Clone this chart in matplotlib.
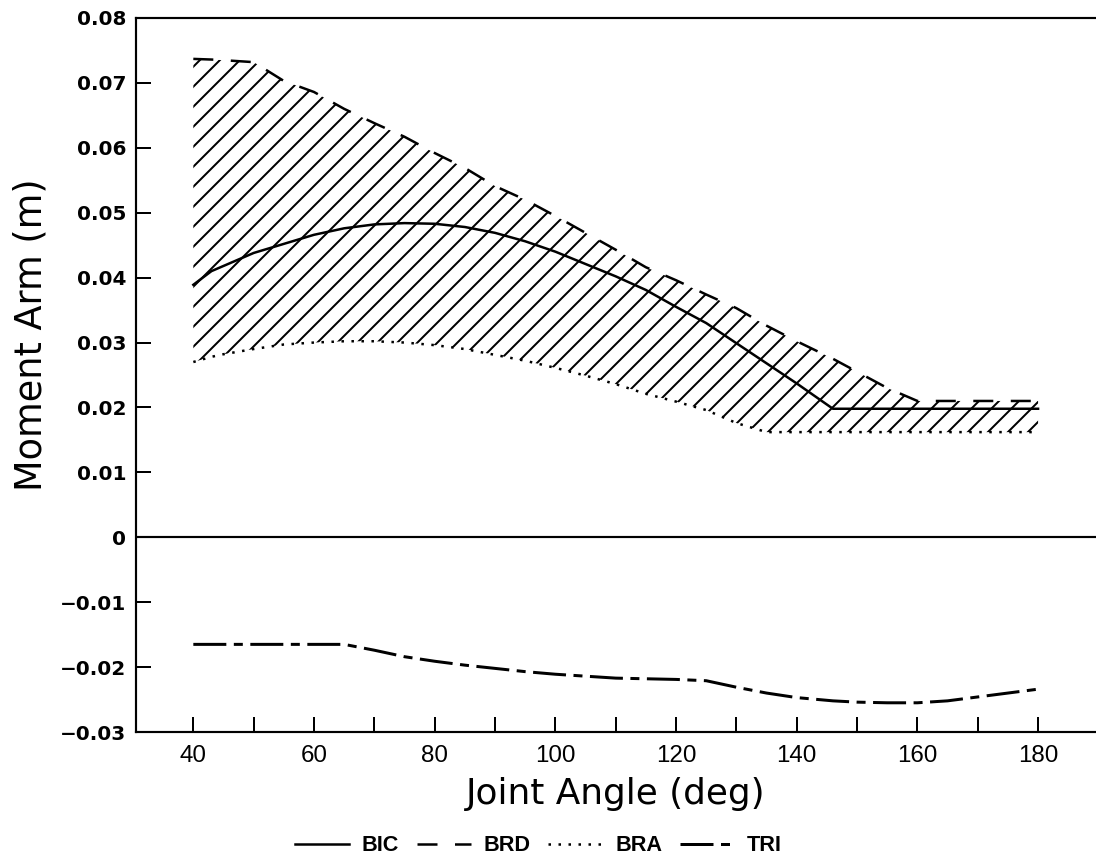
import matplotlib
matplotlib.use("Agg")
import matplotlib.pyplot as plt

# joint angle grid (deg) and moment arms (m)
angle = [40, 43, 45, 50, 55, 60, 65, 70, 75, 80, 85, 90, 95, 100, 105, 110,
         115, 120, 125, 130, 135, 140, 146, 150, 155, 160, 165, 170, 175, 180]

bic = [0.0389, 0.0410, 0.0418, 0.0438, 0.0452, 0.0466, 0.0476, 0.0482, 0.0484,
       0.0483, 0.0478, 0.0469, 0.0456, 0.0440, 0.0421, 0.0402, 0.0381, 0.0355,
       0.0330, 0.0299, 0.0268, 0.0237, 0.0198, 0.0198, 0.0198, 0.0198, 0.0198,
       0.0198, 0.0198, 0.0198]

brd = [0.0737, 0.0736, 0.0735, 0.0732, 0.0703, 0.0686, 0.0660, 0.0638, 0.0617,
       0.0592, 0.0569, 0.0541, 0.0520, 0.0495, 0.0469, 0.0443, 0.0416, 0.0396,
       0.0374, 0.0353, 0.0326, 0.0302, 0.0275, 0.0255, 0.0230, 0.0210, 0.0210,
       0.0210, 0.0210, 0.0210]

bra = [0.0270, 0.0278, 0.0282, 0.0290, 0.0297, 0.0300, 0.0302, 0.0302, 0.0300,
       0.0296, 0.0290, 0.0281, 0.0272, 0.0261, 0.0249, 0.0236, 0.0221, 0.0209,
       0.0196, 0.0176, 0.0162, 0.0162, 0.0162, 0.0162, 0.0162, 0.0162, 0.0162,
       0.0162, 0.0162, 0.0162]

tri = [-0.0165, -0.0165, -0.0165, -0.0165, -0.0165, -0.0165, -0.0165, -0.0174,
       -0.0184, -0.0191, -0.0197, -0.0202, -0.0207, -0.0211, -0.0214, -0.0217,
       -0.0218, -0.0219, -0.0221, -0.0231, -0.0240, -0.0247, -0.0252, -0.0254,
       -0.0255, -0.0255, -0.0252, -0.0246, -0.0240, -0.0234]

y_ticks = [-0.03, -0.02, -0.01, 0, 0.01, 0.02, 0.03, 0.04, 0.05, 0.06, 0.07, 0.08]
y_labels = ["\u22120.03", "\u22120.02", "\u22120.01", "0", "0.01", "0.02", "0.03",
            "0.04", "0.05", "0.06", "0.07", "0.08"]
x_major = [40, 60, 80, 100, 120, 140, 160, 180]
x_minor = [50, 70, 90, 110, 130, 150, 170]

NARROW = ["Liberation Sans", "DejaVu Sans"]

plt.rcParams["hatch.linewidth"] = 1.2
fig = plt.figure(figsize=(1096 / 120, 856 / 120), dpi=120)
ax = fig.add_axes([136 / 1096, 1 - 732 / 856, 1 - 136 / 1096, (732 - 18) / 856])

# hatched band between BRA and BRD
ax.fill_between(angle, bra, brd, facecolor="none", edgecolor="black",
                hatch="//", linewidth=0)

ax.plot(angle, bic, color="black", lw=1.5, label="BIC")
ax.plot(angle, brd, color="black", lw=1.5, dashes=(8, 7), label="BRD")
ax.plot(angle, bra, color="black", lw=1.5, dashes=(1, 3), label="BRA")
ax.plot(angle, tri, color="black", lw=1.8, dashes=(11, 2.5, 3, 2.5), label="TRI")
ax.axhline(0, color="black", lw=1.3)

ax.set_xlim(30.5, 189.6)
ax.set_ylim(-0.03, 0.08)

ax.set_yticks(y_ticks)
ax.set_yticklabels(y_labels, fontsize=12, fontweight="bold")
ax.set_xticks(x_major)
ax.set_xticks(x_minor, minor=True)
ax.set_xticklabels([str(v) for v in x_major], family=NARROW, fontsize=14.5)
ax.tick_params(which="both", direction="in", length=9, width=1.2,
               top=False, right=False)
ax.tick_params(axis="x", pad=8)
ax.tick_params(axis="y", pad=6)

for side in ["left", "bottom", "top"]:
    ax.spines[side].set_linewidth(1.3)
ax.spines["right"].set_visible(False)

ax.set_xlabel("Joint Angle (deg)", fontsize=21.5, labelpad=6)
ax.set_ylabel("Moment Arm (m)", fontsize=22)
ax.yaxis.set_label_coords(-0.09, 0.556)

fig.legend(loc="center", bbox_to_anchor=(0.491, 0.012), ncol=4, frameon=False,
           handlelength=2.5, handletextpad=0.6, columnspacing=0.8,
           prop={"family": NARROW, "size": 13, "weight": "bold"})

fig.savefig("out.png", dpi=120)
